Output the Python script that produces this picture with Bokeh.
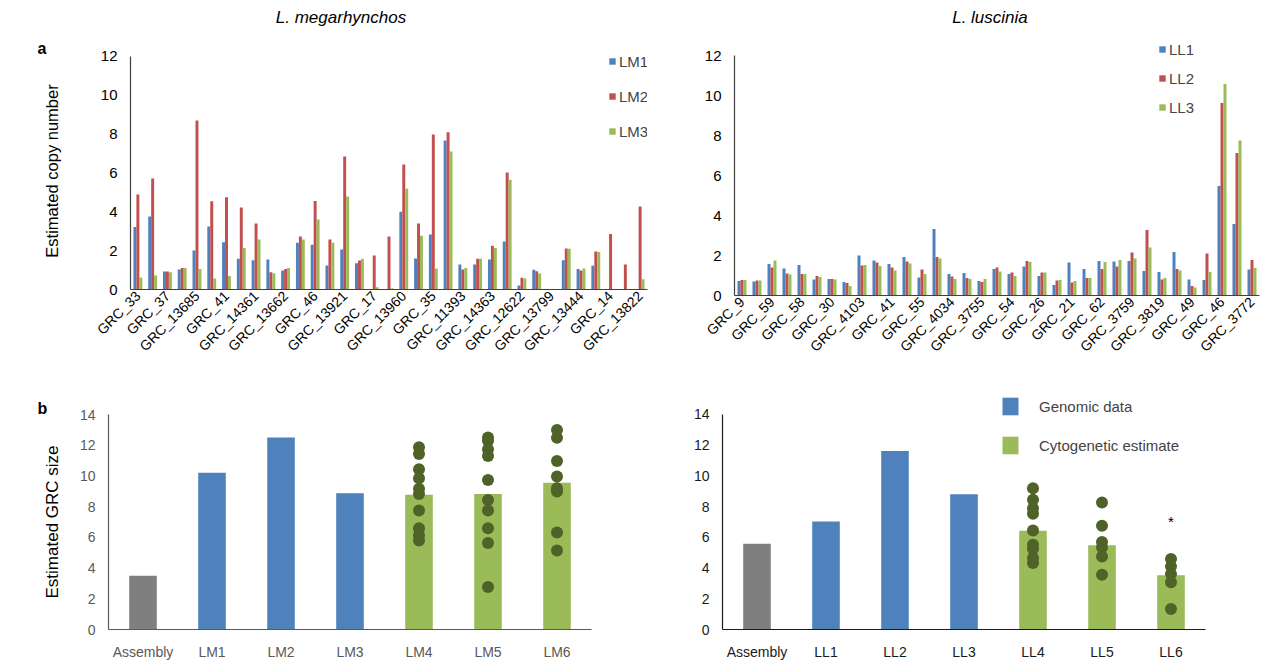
import math
import numpy as np
from bokeh.plotting import figure
from bokeh.layouts import column, row
from bokeh.models import (Range1d, FactorRange, FixedTicker, Legend, LegendItem,
                          Title, ColumnDataSource, Div)
from bokeh.embed import file_html
from bokeh.resources import INLINE
from bokeh.core.properties import value

FONT = "Liberation Sans"
BLUE, RED, GREEN, GRAY, DOT = "#4F81BD", "#C0504D", "#9BBB59", "#7F7F7F", "#4F6228"

# ---- panel a: estimated copy number per GRC locus (every other locus labelled)
lm_labels = ["GRC_33", "GRC_37", "GRC_13685", "GRC_41", "GRC_14361", "GRC_13662",
             "GRC_46", "GRC_13921", "GRC_17", "GRC_13960", "GRC_35", "GRC_11393",
             "GRC_14363", "GRC_12622", "GRC_13799", "GRC_13444", "GRC_14", "GRC_13822"]
lm1 = [3.21, 3.75, 0.93, 1.03, 2.00, 3.24, 2.43, 1.58, 1.51, 1.54, 0.98, 2.40, 2.30,
       1.23, 2.06, 1.35, 0.00, 0.00, 4.00, 1.60, 2.83, 7.66, 1.29, 1.29, 1.54, 2.47,
       0.20, 1.01, 0.00, 1.51, 1.05, 1.22, 0.00, 0.00, 0.00]
lm2 = [4.89, 5.71, 0.93, 1.10, 8.69, 4.54, 4.75, 4.22, 3.39, 0.89, 1.05, 2.73, 4.55,
       2.57, 6.84, 1.49, 1.75, 2.73, 6.43, 3.39, 7.97, 8.09, 1.03, 1.58, 2.25, 6.02,
       0.60, 0.94, 0.00, 2.11, 0.98, 1.95, 2.85, 1.29, 4.27]
lm3 = [0.62, 0.72, 0.89, 1.10, 1.06, 0.57, 0.69, 2.14, 2.57, 0.84, 1.11, 2.57, 3.60,
       2.40, 4.78, 1.58, 0.12, 0.07, 5.18, 2.76, 1.08, 7.10, 1.11, 1.58, 2.14, 5.64,
       0.57, 0.82, 0.00, 2.09, 1.08, 1.93, 0.00, 0.00, 0.53]

ll_labels = ["GRC_9", "GRC_59", "GRC_58", "GRC_30", "GRC_4103", "GRC_41", "GRC_55",
             "GRC_4034", "GRC_3755", "GRC_54", "GRC_26", "GRC_21", "GRC_62",
             "GRC_3759", "GRC_3819", "GRC_49", "GRC_46", "GRC_3772"]
ll1 = [0.73, 0.70, 1.58, 1.35, 1.53, 0.80, 0.83, 0.68, 2.00, 1.75, 1.57, 1.93, 0.90,
       3.32, 1.08, 1.12, 0.72, 1.32, 1.07, 1.45, 0.97, 0.52, 1.65, 1.33, 1.73, 1.70,
       1.73, 1.23, 1.18, 2.18, 0.80, 0.77, 5.48, 3.57, 1.30]
ll2 = [0.77, 0.75, 1.40, 1.10, 1.08, 0.97, 0.83, 0.63, 1.50, 1.65, 1.40, 1.70, 1.30,
       1.93, 0.95, 0.88, 0.67, 1.40, 1.15, 1.73, 1.15, 0.75, 0.65, 0.87, 1.32, 1.45,
       2.15, 3.28, 0.80, 1.33, 0.48, 2.10, 9.62, 7.13, 1.77]
ll3 = [0.77, 0.75, 1.75, 1.05, 1.08, 0.92, 0.80, 0.48, 1.53, 1.48, 1.25, 1.60, 1.08,
       1.85, 0.82, 0.83, 0.82, 1.20, 0.98, 1.68, 1.15, 0.78, 0.72, 0.87, 1.68, 1.77,
       1.85, 2.40, 0.87, 1.25, 0.40, 1.18, 10.57, 7.75, 1.38]

# ---- panel b: estimated GRC size per individual
lm_samples = ["Assembly", "LM1", "LM2", "LM3", "LM4", "LM5", "LM6"]
lm_size = [3.50, 10.20, 12.50, 8.87, 8.77, 8.83, 9.55]
ll_samples = ["Assembly", "LL1", "LL2", "LL3", "LL4", "LL5", "LL6"]
ll_size = [5.58, 7.03, 11.62, 8.81, 6.43, 5.48, 3.53]
sample_kind = ["Assembly", "Genomic data", "Genomic data", "Genomic data",
               "Cytogenetic estimate", "Cytogenetic estimate", "Cytogenetic estimate"]

# per-cell cytogenetic estimates
lm_cells = {
    "LM4": [11.86, 11.43, 10.43, 9.85, 9.16, 8.83, 7.75, 6.60, 6.13, 5.80],
    "LM5": [12.51, 12.29, 11.73, 11.30, 9.74, 8.44, 7.75, 6.60, 5.63, 2.77],
    "LM6": [12.99, 12.49, 10.97, 9.96, 9.20, 8.98, 6.32, 5.15],
}
ll_cells = {
    "LL4": [9.20, 8.44, 7.90, 7.53, 6.45, 5.52, 5.24, 4.65, 4.33],
    "LL5": [8.27, 6.75, 5.69, 5.35, 4.76, 3.57],
    "LL6": [4.59, 4.11, 3.61, 3.07, 1.34],
}
star_sample = "LL6"
star_level = 7.0


def style_axes(p, tick_color, line_color, font_size="15px"):
    for ax in (p.xaxis[0], p.yaxis[0]):
        ax.major_tick_line_color = None
        ax.minor_tick_line_color = None
        ax.major_tick_out = 0
        ax.major_tick_in = 0
        ax.minor_tick_out = 0
        ax.minor_tick_in = 0
        ax.axis_line_color = line_color
        ax.axis_line_width = 1.2
        ax.major_label_text_font = FONT
        ax.major_label_text_color = tick_color
        ax.major_label_text_font_size = font_size
        ax.axis_label_text_font = FONT
        ax.axis_label_text_font_style = "normal"
        ax.axis_label_text_font_size = "17px"
        ax.axis_label_text_color = "#000000"
    p.xgrid.visible = False
    p.ygrid.visible = False
    p.outline_line_color = None
    p.background_fill_color = "white"
    p.border_fill_color = "white"


def add_letter(p, text, offset, standoff):
    p.add_layout(Title(text=text, text_font=FONT, text_font_style="bold",
                       text_font_size="16px", text_color="#000000", align="left",
                       offset=offset, standoff=standoff), "above")


def heading(text, width, left):
    html = ('<div style="position:relative; left:%dpx; width:200px; text-align:center; '
            'font-family:\'%s\'; font-style:italic; font-size:17px; line-height:36px; '
            'color:#000;">%s</div>' % (left, FONT, text))
    return Div(text=html, width=width, height=36, margin=0)


def copy_panel(labels, s1, s2, s3, names, width, height, borders, y_end, legend_pos,
               legend_item_h, legend_spacing, ylabel=None):
    left, right, top, bottom = borders
    n = len(s1)
    x = np.arange(n)
    p = figure(width=width, height=height, output_backend="svg", toolbar_location=None,
               x_range=Range1d(-0.5, n - 0.5), y_range=Range1d(0, y_end),
               min_border_left=left, min_border_right=right,
               min_border_top=top, min_border_bottom=bottom, frame_align=False)
    rs = []
    for off, vals, col in ((-0.2, s1, BLUE), (0.0, s2, RED), (0.2, s3, GREEN)):
        rs.append(p.vbar(x=x + off, top=vals, width=0.2, fill_color=col, line_color=None))
    style_axes(p, "#000000", "#404040")
    p.yaxis.ticker = FixedTicker(ticks=list(range(0, 13, 2)))
    p.yaxis.bounds = (0, 12)
    p.yaxis.major_label_standoff = 13
    p.xaxis.ticker = FixedTicker(ticks=list(range(0, n, 2)))
    p.xaxis.major_label_overrides = {i * 2: lab for i, lab in enumerate(labels)}
    p.xaxis.major_label_orientation = math.pi / 4
    p.xaxis.major_label_standoff = 4
    p.xaxis.major_label_text_font_size = "14px"
    if ylabel:
        p.yaxis.axis_label = ylabel
        p.yaxis.axis_label_standoff = 37
        p.yaxis.axis_label_text_font_size = "16.5px"
    legend = Legend(items=[LegendItem(label=nm, renderers=[r]) for nm, r in zip(names, rs)],
                    location=legend_pos, orientation="vertical",
                    glyph_width=8, glyph_height=8, label_height=legend_item_h,
                    label_width=20, spacing=legend_spacing, padding=0, margin=0,
                    label_standoff=3, label_text_font=FONT, label_text_font_size="15px",
                    border_line_color=None, background_fill_alpha=0)
    p.add_layout(legend)
    return p


def size_panel(samples, sizes, cells, width, height, borders, y_end, tick_color,
               line_color, ylabel=None, with_legend=False):
    left, right, top, bottom = borders
    p = figure(width=width, height=height, output_backend="svg", toolbar_location=None,
               x_range=FactorRange(*samples), y_range=Range1d(0, y_end),
               min_border_left=left, min_border_right=right,
               min_border_top=top, min_border_bottom=bottom, frame_align=False)
    rends = {}
    for kind, col in (("Assembly", GRAY), ("Genomic data", BLUE),
                      ("Cytogenetic estimate", GREEN)):
        sel = [i for i, k in enumerate(sample_kind) if k == kind]
        src = ColumnDataSource(dict(x=[samples[i] for i in sel], top=[sizes[i] for i in sel]))
        rends[kind] = p.vbar(x="x", top="top", width=0.4, source=src,
                             fill_color=col, line_color=None)
    xs, ys = [], []
    for s, vals in cells.items():
        xs += [s] * len(vals)
        ys += vals
    p.scatter(x=xs, y=ys, size=12, marker="circle", fill_color=DOT, line_color=None)
    style_axes(p, tick_color, line_color, font_size="14px")
    p.yaxis.ticker = FixedTicker(ticks=list(range(0, 15, 2)))
    p.yaxis.bounds = (0, 14)
    p.yaxis.major_label_standoff = 13
    p.xaxis.major_label_standoff = 14
    if ylabel:
        p.yaxis.axis_label = ylabel
        p.yaxis.axis_label_standoff = 15
    if with_legend:
        legend = Legend(items=[LegendItem(label="Genomic data", renderers=[rends["Genomic data"]]),
                               LegendItem(label="Cytogenetic estimate",
                                          renderers=[rends["Cytogenetic estimate"]])],
                        location=(278, 173), orientation="vertical",
                        glyph_width=20, glyph_height=22, label_height=22,
                        spacing=17, padding=0, margin=0, label_standoff=19,
                        label_text_font=FONT, label_text_font_size="15px",
                        border_line_color=None, background_fill_alpha=0)
        p.add_layout(legend)
    return p


p1 = copy_panel(lm_labels, lm1, lm2, lm3, ["LM1", "LM2", "LM3"], 690, 334,
                (130, 43, 16, 81), 12.19, (478, 149), 18, 17,
                ylabel="Estimated copy number")
p2 = copy_panel(ll_labels, ll1, ll2, ll3, ["LL1", "LL2", "LL3"], 571, 334,
                (44, 2, 1, 75), 12.9, (424, 178), 20, 9)
p3 = size_panel(lm_samples, lm_size, lm_cells, 690, 292, (108, 99, 44, 32), 14,
                "#595959", "#595959", ylabel="Estimated GRC size")
p4 = size_panel(ll_samples, ll_size, ll_cells, 571, 292, (31, 56, 24, 32), 15.3,
                "#1a1a1a", "#1a1a1a", with_legend=True)
p4.text(x=[star_sample], y=[star_level], text=["*"], text_font=value(FONT),
        text_font_size="15px", text_align="center", text_baseline="middle",
        text_color="#000000")

add_letter(p1, "a", -93, -9)
add_letter(p3, "b", -71, -5)

h1 = heading("L. megarhynchos", 690, 241)
h2 = heading("L. luscinia", 571, 200)

layout = column(row(h1, h2, spacing=0), row(p1, p2, spacing=0), row(p3, p4, spacing=0),
                spacing=0)
open("out.html", "w").write(file_html(layout, INLINE))
